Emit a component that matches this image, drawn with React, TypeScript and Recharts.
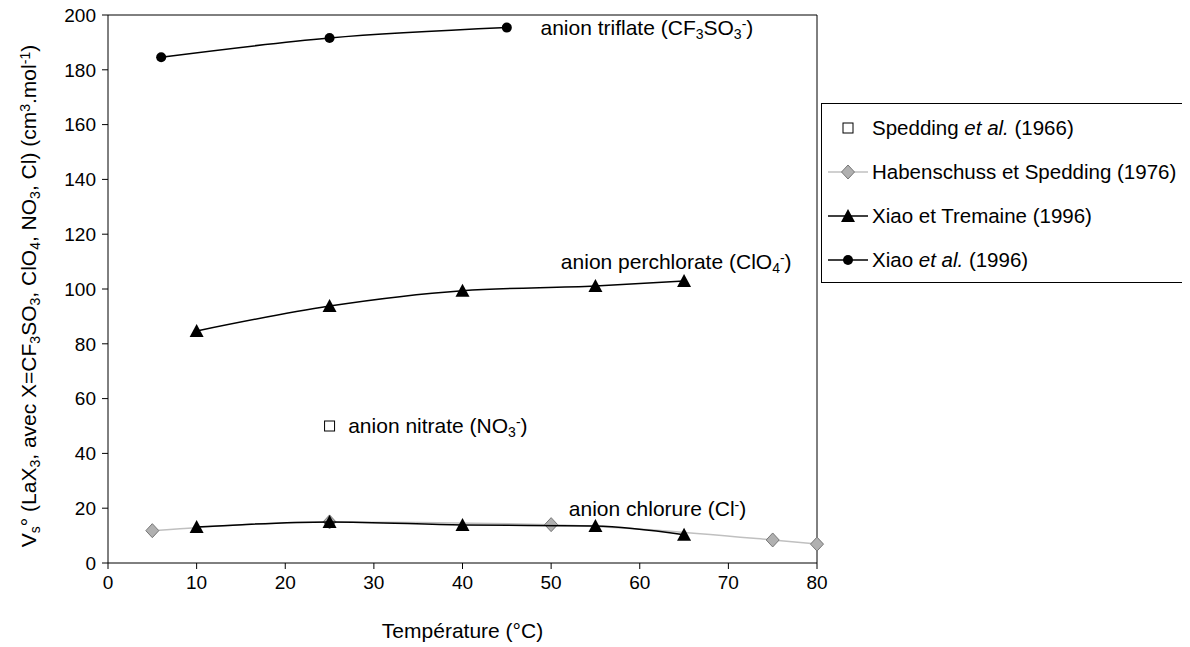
import { ReferenceDot, ReferenceLine, Scatter, ScatterChart, XAxis, YAxis } from "recharts";

const xTicks = [0, 10, 20, 30, 40, 50, 60, 70, 80];
const yTicks = [0, 20, 40, 60, 80, 100, 120, 140, 160, 180, 200];

// Spedding et al. (1966) - nitrate
const speddingT = [25];
const speddingV = [50];

// Habenschuss et Spedding (1976) - chlorure
const habenT = [5, 25, 50, 75, 80];
const habenV = [11.8, 15, 14, 8.4, 6.9];

// Xiao et Tremaine (1996) - perchlorate et chlorure
const tremaineT = [10, 25, 40, 55, 65];
const perchlorateV = [84.7, 93.8, 99.4, 101.1, 102.9];
const chlorureV = [13.1, 15, 13.9, 13.5, 10.3];

// Xiao et al. (1996) - triflate
const xiaoT = [6, 25, 45];
const xiaoV = [184.6, 191.6, 195.4];

const zip = (xs: number[], ys: number[]) => xs.map((x, i) => ({ x, y: ys[i] }));

const FONT = "'Liberation Sans', Arial, sans-serif";
const FS = 21;
const SUB = 14;

const Square = ({ cx, cy }: any) => (
  <rect x={cx - 5} y={cy - 5} width={10} height={10} fill="#fff" stroke="#000" strokeWidth={1} />
);
const Diamond = ({ cx, cy }: any) => (
  <path d={`M${cx},${cy - 7}L${cx + 6.5},${cy}L${cx},${cy + 7}L${cx - 6.5},${cy}Z`} fill="#b0b0b0" stroke="#777" strokeWidth={1} />
);
const Triangle = ({ cx, cy }: any) => (
  <path d={`M${cx},${cy - 7}L${cx + 7},${cy + 6}L${cx - 7},${cy + 6}Z`} fill="#000" />
);
const Dot = ({ cx, cy }: any) => <circle cx={cx} cy={cy} r={5} fill="#000" />;

const annot = (parts: { t: string; s?: "sub" | "sup" }[]) => (props: any) => {
  const { viewBox } = props;
  return (
    <text x={viewBox.x} y={viewBox.y + 7} fontFamily={FONT} fontSize={FS} fill="#000">
      {parts.map((p, i) => (
        <tspan
          key={i}
          baselineShift={p.s === "sub" ? "-25%" : p.s === "sup" ? "45%" : undefined}
          fontSize={p.s ? SUB : FS}
        >
          {p.t}
        </tspan>
      ))}
    </text>
  );
};

const YLabel = () => (
  <text
    transform="translate(28,296) rotate(-90)"
    textAnchor="middle"
    fontFamily={FONT}
    fontSize={FS}
    fill="#000"
  >
    <tspan>V</tspan>
    <tspan baselineShift="-25%" fontSize={SUB}>s</tspan>
    <tspan>° (LaX</tspan>
    <tspan baselineShift="-25%" fontSize={SUB}>3</tspan>
    <tspan>, avec X=CF</tspan>
    <tspan baselineShift="-25%" fontSize={SUB}>3</tspan>
    <tspan>SO</tspan>
    <tspan baselineShift="-25%" fontSize={SUB}>3</tspan>
    <tspan>, ClO</tspan>
    <tspan baselineShift="-25%" fontSize={SUB}>4</tspan>
    <tspan>, NO</tspan>
    <tspan baselineShift="-25%" fontSize={SUB}>3</tspan>
    <tspan>, Cl) (cm</tspan>
    <tspan baselineShift="45%" fontSize={SUB}>3</tspan>
    <tspan>.mol</tspan>
    <tspan baselineShift="45%" fontSize={SUB}>-1</tspan>
    <tspan>)</tspan>
  </text>
);

const legendItems = [
  { label: <>Spedding <i>et al.</i> (1966)</>, marker: "square", line: null },
  { label: <>Habenschuss et Spedding (1976)</>, marker: "diamond", line: "#c0c0c0" },
  { label: <>Xiao et Tremaine (1996)</>, marker: "triangle", line: "#000" },
  { label: <>Xiao <i>et al.</i> (1996)</>, marker: "dot", line: "#000" },
];

function LegendBox() {
  return (
    <div
      style={{
        position: "absolute",
        left: 813,
        top: 103,
        width: 366,
        height: 180,
        border: "1px solid #000",
        background: "#fff",
        fontFamily: FONT,
        fontSize: 20.5,
        boxSizing: "border-box",
      }}
    >
      {legendItems.map((it, i) => (
        <div
          key={i}
          style={{ position: "absolute", left: 0, top: 12 + i * 44, height: 24, display: "flex", alignItems: "center", whiteSpace: "nowrap" }}
        >
          <svg width={48} height={24}>
            {it.line && <line x1={6} x2={46} y1={12} y2={12} stroke={it.line} strokeWidth={1.5} />}
            {it.marker === "square" && <Square cx={26} cy={12} />}
            {it.marker === "diamond" && <Diamond cx={26} cy={12} />}
            {it.marker === "triangle" && <Triangle cx={26} cy={12} />}
            {it.marker === "dot" && <Dot cx={26} cy={12} />}
          </svg>
          <span style={{ marginLeft: 2 }}>{it.label}</span>
        </div>
      ))}
    </div>
  );
}

export default function App() {
  return (
    <div style={{ position: "relative", width: 1174, height: 647, marginTop: -8 }}>
      <ScatterChart width={1174} height={647} margin={{ top: 15, right: 365, left: 40, bottom: 44 }}>
        <XAxis
          type="number"
          dataKey="x"
          domain={[0, 80]}
          ticks={xTicks}
          interval={0}
          axisLine={{ stroke: "#000" }}
          tickLine={{ stroke: "#000" }}
          tick={{ fill: "#000", fontSize: 19, fontFamily: FONT }}
          tickMargin={7}
          height={40}
          label={{
            value: "Température (°C)",
            position: "bottom",
            offset: 20,
            style: { fill: "#000", fontSize: FS, fontFamily: FONT },
          }}
        />
        <YAxis
          type="number"
          dataKey="y"
          domain={[0, 200]}
          ticks={yTicks}
          interval={0}
          width={60}
          axisLine={{ stroke: "#000" }}
          tickLine={{ stroke: "#000" }}
          tick={{ fill: "#000", fontSize: 19, fontFamily: FONT }}
          tickMargin={6}
          label={{ content: () => <YLabel /> }}
        />
        <ReferenceLine y={200} stroke="#000" ifOverflow="visible" />
        <ReferenceLine x={80} stroke="#000" ifOverflow="visible" />
        <Scatter
          data={zip(habenT, habenV)}
          line={{ stroke: "#c0c0c0", strokeWidth: 1.5 }}
          lineJointType="monotoneX"
          shape={<Diamond />}
          isAnimationActive={false}
        />
        <Scatter
          data={zip(tremaineT, chlorureV)}
          line={{ stroke: "#000", strokeWidth: 1.5 }}
          lineJointType="monotoneX"
          shape={<Triangle />}
          isAnimationActive={false}
        />
        <Scatter
          data={zip(tremaineT, perchlorateV)}
          line={{ stroke: "#000", strokeWidth: 1.5 }}
          lineJointType="monotoneX"
          shape={<Triangle />}
          isAnimationActive={false}
        />
        <Scatter
          data={zip(xiaoT, xiaoV)}
          line={{ stroke: "#000", strokeWidth: 1.5 }}
          lineJointType="monotoneX"
          shape={<Dot />}
          isAnimationActive={false}
        />
        <Scatter data={zip(speddingT, speddingV)} shape={<Square />} isAnimationActive={false} />
        <ReferenceDot
          x={48.8}
          y={195.3}
          r={0}
          ifOverflow="visible"
          label={{ content: annot([{ t: "anion triflate (CF" }, { t: "3", s: "sub" }, { t: "SO" }, { t: "3", s: "sub" }, { t: "-", s: "sup" }, { t: ")" }]) }}
        />
        <ReferenceDot
          x={51.1}
          y={110}
          r={0}
          ifOverflow="visible"
          label={{ content: annot([{ t: "anion perchlorate (ClO" }, { t: "4", s: "sub" }, { t: "-", s: "sup" }, { t: ")" }]) }}
        />
        <ReferenceDot
          x={27.1}
          y={50}
          r={0}
          ifOverflow="visible"
          label={{ content: annot([{ t: "anion nitrate (NO" }, { t: "3", s: "sub" }, { t: "-", s: "sup" }, { t: ")" }]) }}
        />
        <ReferenceDot
          x={52}
          y={19.8}
          r={0}
          ifOverflow="visible"
          label={{ content: annot([{ t: "anion chlorure (Cl" }, { t: "-", s: "sup" }, { t: ")" }]) }}
        />
      </ScatterChart>
      <LegendBox />
    </div>
  );
}
